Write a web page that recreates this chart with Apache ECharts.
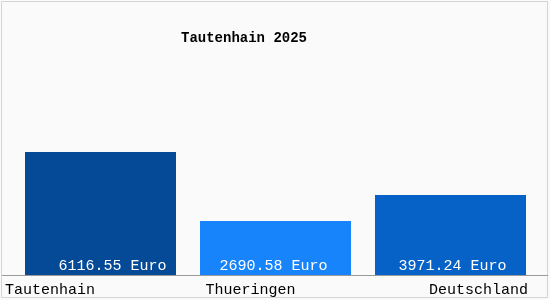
<!DOCTYPE html>
<html>
<head>
<meta charset="utf-8">
<script src="https://cdn.jsdelivr.net/npm/echarts@6/dist/echarts.min.js"></script>
<style>
html,body{margin:0;padding:0;background:#fff;}
#c{width:550px;height:300px;}
</style>
</head>
<body>
<div id="c"></div>
<script>
var categories = ['Tautenhain', 'Thueringen', 'Deutschland'];
var values = [6116.55, 2690.58, 3971.24];
var unit = 'Euro';
var title = 'Tautenhain 2025';
var colors = ['#044a97', '#1884fc', '#0662c6'];
var labelOffsets = [12, -2, 2];

var FONT = '"Liberation Mono", "DejaVu Sans Mono", monospace';
var chart = echarts.init(document.getElementById('c'), null, {renderer: 'canvas'});

var catData = categories.map(function (c, i) {
  var ts;
  if (i === 0) ts = {align: 'center', padding: [0, 101, 0, 0]};
  else if (i === categories.length - 1) ts = {align: 'center', padding: [0, 0, 0, 56]};
  else ts = {align: 'center', padding: [0, 50, 0, 0]};
  return {value: c, textStyle: ts};
});

chart.setOption({
  backgroundColor: '#fafafa',
  animation: false,
  title: {
    text: title,
    left: 176,
    top: 26,
    textStyle: {fontFamily: FONT, fontSize: 14, fontWeight: 'bold', color: '#000'}
  },
  grid: {left: 13, right: 12, top: 134.2, bottom: 25, containLabel: false},
  xAxis: {
    type: 'category',
    data: catData,
    axisLine: {show: false},
    axisTick: {show: false},
    axisLabel: {
      margin: 8,
      fontFamily: FONT,
      fontSize: 15,
      color: '#000'
    }
  },
  yAxis: {
    type: 'value',
    min: 0,
    max: 7000,
    show: false,
    splitLine: {show: false}
  },
  series: [{
    type: 'bar',
    barWidth: 151,
    data: values.map(function (v, i) {
      return {
        value: v,
        itemStyle: {color: colors[i]},
        label: {offset: [labelOffsets[i], 0]}
      };
    }),
    label: {
      show: true,
      position: 'insideBottom',
      distance: 1,
      formatter: function (p) { return p.value.toFixed(2) + ' ' + unit; },
      fontFamily: FONT,
      fontSize: 15,
      color: '#fff'
    }
  }],
  graphic: [
    {type: 'rect', shape: {x: 1.5, y: 1.5, width: 546, height: 296}, style: {fill: null, stroke: '#d4d4d4', lineWidth: 1}, silent: true},
    {type: 'line', shape: {x1: 2, y1: 275.5, x2: 548, y2: 275.5}, style: {stroke: '#999', lineWidth: 1}, z: 10, silent: true}
  ]
});
</script>
</body>
</html>
